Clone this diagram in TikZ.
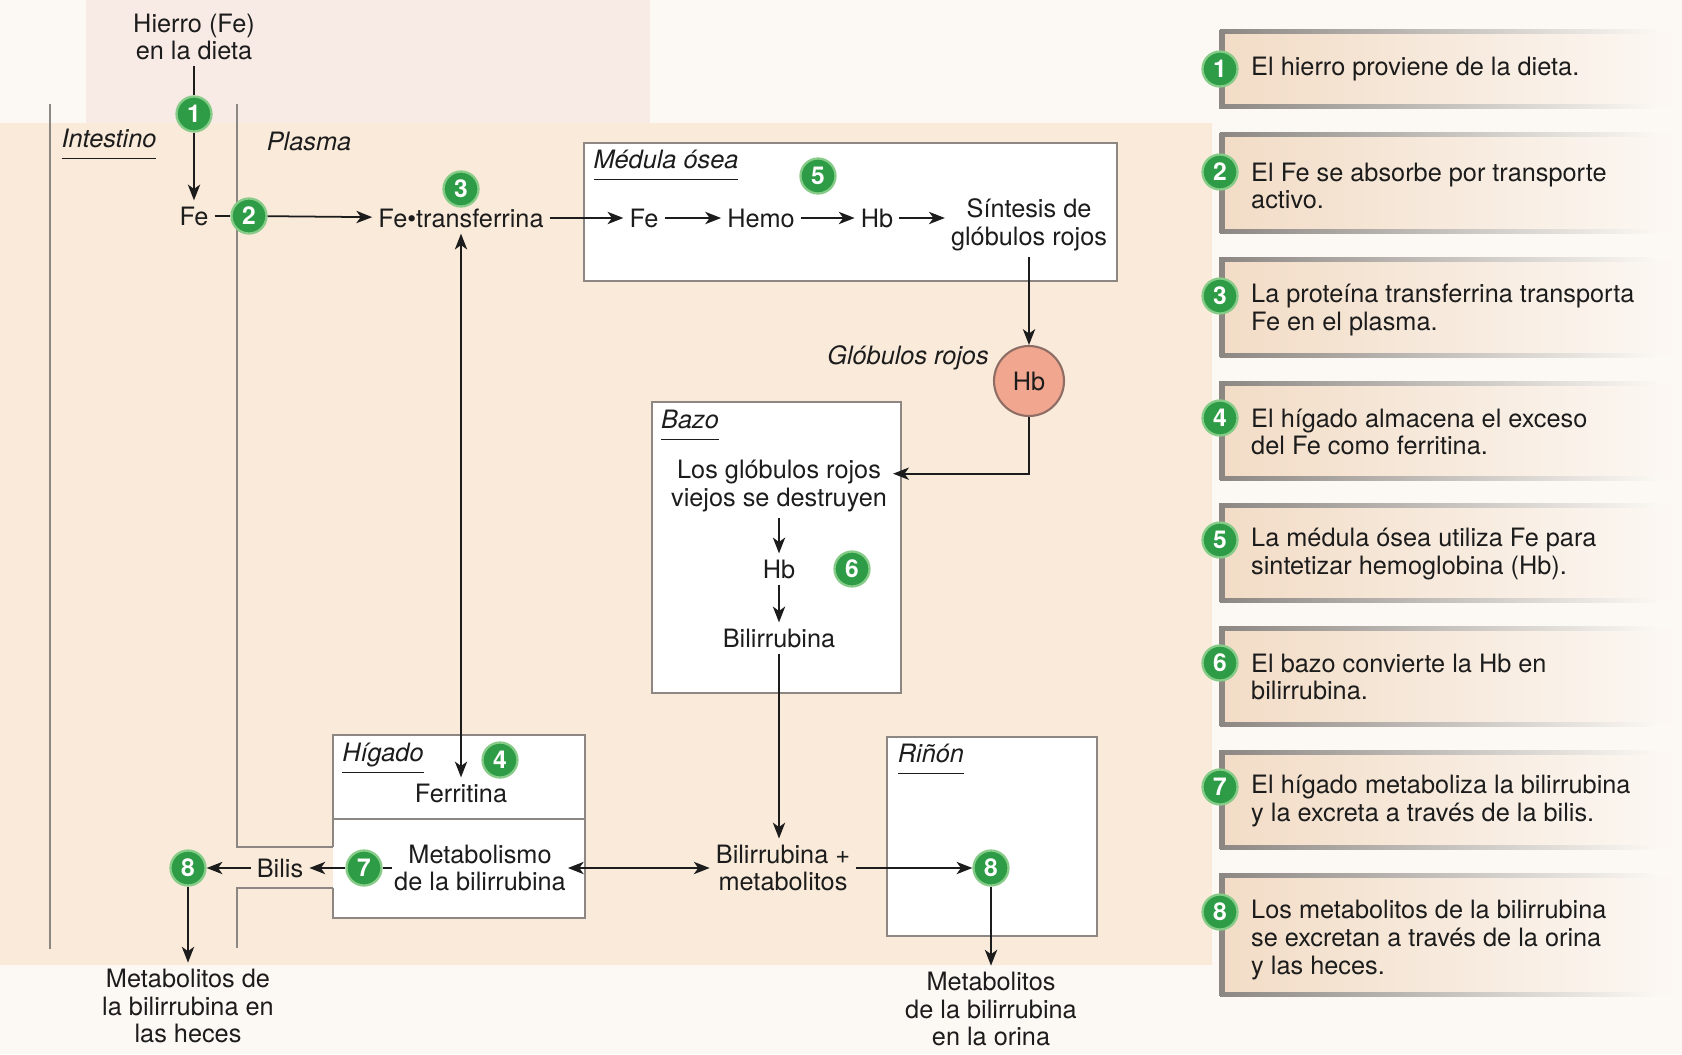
\documentclass[tikz,border=0pt]{standalone}
\usepackage{fontspec}
\setmainfont{TeX Gyre Heros}
\usepackage{xcolor}
\usepackage{tikz}
\usetikzlibrary{arrows.meta, fit}

\definecolor{stepgreen}{HTML}{2E9C46}
\definecolor{stepring}{HTML}{86CC88}
\definecolor{membrane}{HTML}{8C8782}
\definecolor{paper}{HTML}{FCF8F4}
\definecolor{peach}{HTML}{F9EADA}
\definecolor{pinkish}{HTML}{F8EAE5}
\definecolor{legendfill}{HTML}{F2DCC6}
\definecolor{cellred}{HTML}{F1A78F}
\definecolor{cellrim}{HTML}{8E6E64}
\definecolor{ink}{HTML}{1C1C1C}

\newcommand{\orgname}[1]{\underline{\textit{#1}\strut}}

\begin{document}
\begin{tikzpicture}[x=0.02cm, y=-0.02cm,
    every node/.style={text=ink, font=\fontsize{14.4}{15.8}\selectfont, align=center},
    num/.style={circle, fill=stepgreen, draw=stepring, line width=1.3pt, minimum size=0.7cm,
      inner sep=0pt, text=white, font=\fontsize{14}{14}\selectfont\bfseries},
    organ/.style={draw=membrane, line width=1.5pt, fill=white, inner sep=0pt},
    wall/.style={draw=membrane, line width=1.5pt},
    cell/.style={circle, fill=cellred, draw=cellrim, line width=1.2pt, minimum size=1.4cm},
    plain/.style={draw=ink, line width=1pt},
    arr/.style={plain, -{Stealth[length=9pt, width=7pt, inset=2.5pt]}},
    dbl/.style={plain, {Stealth[length=9pt, width=7pt, inset=2.5pt]}-{Stealth[length=9pt, width=7pt, inset=2.5pt]}}]

  \useasboundingbox (0,0) rectangle (1682,1054);
  % page
  \fill[paper] (0,0) rectangle (1682,1054);
  \fill[pinkish] (86,0) rectangle (650,123);
  \fill[peach] (0,123) rectangle (1212,965);

  % intestino / plasma walls
  \draw[wall] (50,104) -- (50,949);
  \draw[wall] (237,104) -- (237,847) -- (333,847);
  \draw[wall] (333,888) -- (237,888) -- (237,948);

  % organs
  \node[organ, fit={(584,143) (1117,281)}] (medula) {};
  \node[organ, fit={(652,402) (901,693)}] (bazo) {};
  \node[organ, fit={(887,737) (1097,936)}] (rinon) {};
  \fill[white] (333,735) rectangle (585,918);
  \draw[wall] (333,847) -- (333,735) -- (585,735) -- (585,918) -- (333,918) -- (333,888);
  \draw[wall] (333,819) -- (585,819);

  % absorcion
  \node (intlbl) at (109,144) {\orgname{Intestino}};
  \node (plalbl) at (309,141) {\textit{Plasma}};
  \node (dieta) at (194,37) {Hierro (Fe)\\en la dieta};
  \node[num] (n1) at (194,114) {1};
  \node (fe1) at (194,216) {Fe};
  \node[num] (n2) at (249,216) {2};
  \node (fetrans) at (461,218) {Fe•transferrina};
  \node[num] (n3) at (461,189) {3};
  \draw[plain] (dieta) -- (n1);
  \draw[arr] (n1) -- (fe1);
  \draw[plain] (fe1) -- (n2);
  \draw[arr] (n2) -- (fetrans);

  % medula osea
  \node (medlbl) at (666,165) {\orgname{Médula ósea}};
  \node[num] (n5) at (818,176) {5};
  \node (fe2) at (644,218) {Fe};
  \node (hemo) at (761,218) {Hemo};
  \node (hb1) at (877,218) {Hb};
  \node (sintesis) at (1029,225) {Síntesis de\\glóbulos rojos};
  \draw[arr] (fetrans) -- (fe2);
  \draw[arr] (fe2) -- (hemo);
  \draw[arr] (hemo) -- (hb1);
  \draw[arr] (hb1) -- (hb1 -| sintesis.west);

  % globulos rojos
  \node[cell] (hbcell) at (1029,381) {Hb};
  \node (rojos) at (908,358) {\textit{Glóbulos rojos}};
  \draw[arr] (sintesis) -- (hbcell);

  % bazo
  \node (bazolbl) at (690,425) {\orgname{Bazo}};
  \node (viejos) at (779,486) {Los glóbulos rojos\\viejos se destruyen};
  \node (hb2) at (779,569) {Hb};
  \node[num] (n6) at (852,569) {6};
  \node (bilirr) at (779,638) {Bilirrubina};
  \draw[arr] (hbcell) |- ([yshift=7pt]viejos.east);
  \draw[arr] (viejos) -- (hb2);
  \draw[arr] (hb2) -- (bilirr);

  % higado
  \node (higlbl) at (383,758) {\orgname{Hígado}};
  \node[num] (n4) at (500,760) {4};
  \node (ferritina) at (461,793) {Ferritina};
  \draw[dbl] (fetrans) -- (ferritina);
  \node[inner sep=1pt] (metab) at (480,868) {Metabolismo\\de la bilirrubina};
  \node[num] (n7) at (364,868) {7};
  \node (bilis) at (280,868) {Bilis};
  \node[num] (n8a) at (188,868) {8};
  \node (heces) at (188,1006) {Metabolitos de\\la bilirrubina en\\las heces};
  \draw[plain] (n7) -- (metab);
  \draw[arr] (n7) -- (bilis);
  \draw[arr] (bilis) -- (n8a);
  \draw[arr] (n8a) -- (heces);

  % rinon
  \node (bilmet) at (783,868) {Bilirrubina +\\metabolitos};
  \draw[arr] (bilirr) -- (bilirr |- bilmet.north);
  \draw[dbl] (metab) -- (bilmet);
  \node (rinlbl) at (931,759) {\orgname{Riñón}};
  \node[num] (n8b) at (991,868) {8};
  \node (orina) at (991,1009) {Metabolitos\\de la bilirrubina\\en la orina};
  \draw[arr] (bilmet) -- (n8b);
  \draw[arr] (n8b) -- (orina);

  % leyenda
  \foreach \top/\bot/\cy/\ty/\txt [count=\n] in {
      32/107/69/69/{El hierro proviene de la dieta.},
      135/231/172/186/{El Fe se absorbe por transporte\\activo.},
      259/355/296/310/{La proteína transferrina transporta\\Fe en el plasma.},
      383/478/418/432/{El hígado almacena el exceso\\del Fe como ferritina.},
      505/600/540/554/{La médula ósea utiliza Fe para\\sintetizar hemoglobina (Hb).},
      628/724/663/677/{El bazo convierte la Hb en\\bilirrubina.},
      752/847/787/801/{El hígado metaboliza la bilirrubina\\y la excreta a través de la bilis.},
      875/994/912/940/{Los metabolitos de la bilirrubina\\se excretan a través de la orina\\y las heces.}} {
    \shade[left color=legendfill, right color=paper] (1222,\top) rectangle (1680,\bot);
    \shade[left color=membrane, right color=paper] (1220,\top-2) rectangle (1660,\top+2);
    \shade[left color=membrane, right color=paper] (1220,\bot-2) rectangle (1660,\bot+2);
    \fill[membrane] (1219,\top-2) rectangle (1225,\bot+2);
    \node[num] (leg\n) at (1220,\cy) {\n};
    \node[anchor=west, align=left] (legtxt\n) at (1245,\ty) {\txt};
  }
\end{tikzpicture}
\end{document}
